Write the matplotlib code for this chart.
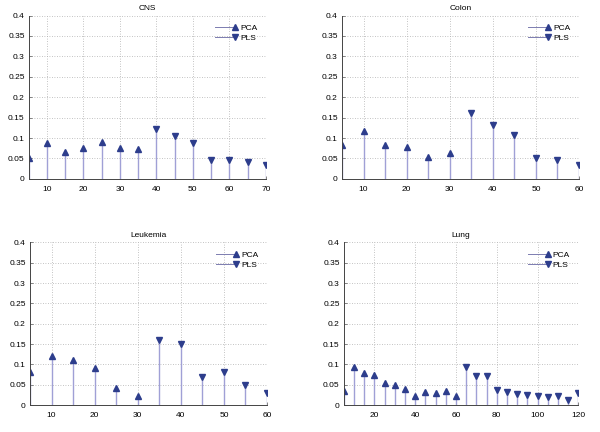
import numpy as np
import matplotlib
matplotlib.use("Agg")
import matplotlib.pyplot as plt
from matplotlib.lines import Line2D
from matplotlib.legend_handler import HandlerLine2D

plt.rcParams['font.family'] = ['Liberation Sans', 'DejaVu Sans']
plt.rcParams['font.size'] = 6

# CNS
cns_pca_x = [5, 10, 15, 20, 25, 30, 35]
cns_pca_y = [0.050, 0.087, 0.066, 0.075, 0.090, 0.076, 0.073]
cns_pls_x = [40, 45, 50, 55, 60, 65, 70]
cns_pls_y = [0.123, 0.104, 0.089, 0.046, 0.047, 0.042, 0.034]

# Colon
colon_pca_x = [5, 10, 15, 20, 25, 30]
colon_pca_y = [0.083, 0.117, 0.083, 0.078, 0.053, 0.063]
colon_pls_x = [35, 40, 45, 50, 55, 60]
colon_pls_y = [0.162, 0.132, 0.108, 0.052, 0.047, 0.033]

# Leukemia
leuk_pca_x = [5, 10, 15, 20, 25, 30]
leuk_pca_y = [0.080, 0.121, 0.111, 0.092, 0.041, 0.021]
leuk_pls_x = [35, 40, 45, 50, 55, 60]
leuk_pls_y = [0.160, 0.149, 0.070, 0.080, 0.050, 0.030]

# Lung
lung_pca_x = [5, 10, 15, 20, 25, 30, 35, 40, 45, 50, 55, 60]
lung_pca_y = [0.035, 0.093, 0.078, 0.075, 0.053, 0.048, 0.039, 0.022,
              0.031, 0.029, 0.034, 0.023]
lung_pls_x = [65, 70, 75, 80, 85, 90, 95, 100, 105, 110, 115, 120]
lung_pls_y = [0.094, 0.072, 0.072, 0.036, 0.031, 0.028, 0.025, 0.022,
              0.020, 0.022, 0.013, 0.029]

titles = ['CNS', 'Colon', 'Leukemia', 'Lung']
xmax = [70, 60, 60, 120]
xticks = [range(10, 71, 10), range(10, 61, 10), range(10, 61, 10), range(20, 121, 20)]
yticks = [0, 0.05, 0.1, 0.15, 0.2, 0.25, 0.3, 0.35, 0.4]
ytick_labels = ['0', '0.05', '0.1', '0.15', '0.2', '0.25', '0.3', '0.35', '0.4']

data = [
    (cns_pca_x, cns_pca_y, cns_pls_x, cns_pls_y),
    (colon_pca_x, colon_pca_y, colon_pls_x, colon_pls_y),
    (leuk_pca_x, leuk_pca_y, leuk_pls_x, leuk_pls_y),
    (lung_pca_x, lung_pca_y, lung_pls_x, lung_pls_y),
]

rects = [
    [0.048, 0.586, 0.395, 0.378],
    [0.570, 0.586, 0.395, 0.378],
    [0.050, 0.0625, 0.395, 0.3765],
    [0.573, 0.0625, 0.391, 0.3765],
]

stem_col = '#a0a0d6'
mark_col = '#2d3d8c'


class StemLegend(HandlerLine2D):
    # marker only at the right end of the legend line, like matlab's stem
    def create_artists(self, legend, orig_handle, xdescent, ydescent,
                       width, height, fontsize, trans):
        arts = super().create_artists(legend, orig_handle, xdescent, ydescent,
                                      width, height, fontsize, trans)
        for a in arts:
            n = len(a.get_xdata())
            a.set_markevery([n - 1])
        return arts


fig = plt.figure(figsize=(6, 4.32), dpi=100)

for i in range(4):
    ax = fig.add_axes(rects[i])
    px, py, lx, ly = data[i]
    for xs, ys, m in [(px, py, '^'), (lx, ly, 'v')]:
        ml, sl, bl = ax.stem(xs, ys, basefmt=' ')
        plt.setp(sl, color=stem_col, linewidth=1.0)
        plt.setp(ml, marker=m, markersize=3.8, color=mark_col,
                 markerfacecolor=mark_col, markeredgecolor=mark_col)
    ax.set_xlim(5, xmax[i])
    ax.set_ylim(0, 0.4)
    ax.set_xticks(list(xticks[i]))
    ax.set_yticks(yticks)
    ax.set_yticklabels(ytick_labels)
    ax.grid(True, linestyle=(0, (1, 2)), color='#b0b0b0', linewidth=0.6)
    ax.set_axisbelow(True)
    for s in ['top', 'right']:
        ax.spines[s].set_visible(False)
    for s in ['left', 'bottom']:
        ax.spines[s].set_color('#444444')
        ax.spines[s].set_linewidth(0.7)
    ax.tick_params(direction='in', length=2, width=0.5, color='#555555', pad=3)
    ax.tick_params(axis='x', pad=5)
    ax.set_title(titles[i], fontsize=6, pad=4)

    h1 = Line2D([], [], color='#7c7cb0', linewidth=0.7, marker='^', markersize=3.8,
                markerfacecolor=mark_col, markeredgecolor=mark_col)
    h2 = Line2D([], [], color='#7c7cb0', linewidth=0.7, marker='v', markersize=3.8,
                markerfacecolor=mark_col, markeredgecolor=mark_col)
    ax.legend([h1, h2], ['PCA', 'PLS'], loc='upper right', frameon=False,
              numpoints=2, handlelength=3.0, handletextpad=0.3,
              labelspacing=0.3, borderaxespad=0.6, fontsize=6,
              handler_map={Line2D: StemLegend(numpoints=2)})

fig.savefig('out.png', dpi=100)
